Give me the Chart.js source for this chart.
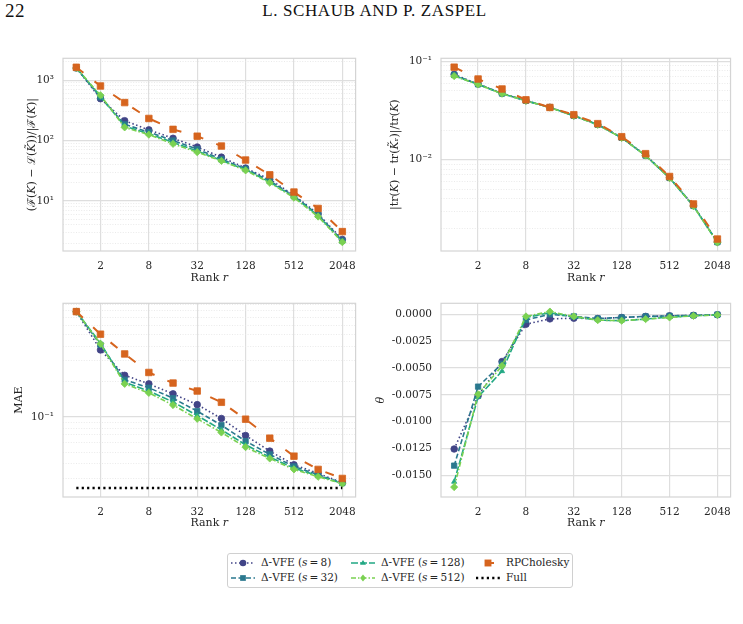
<!DOCTYPE html>
<html>
<head>
<meta charset="utf-8">
<script src="https://cdn.jsdelivr.net/npm/chart.js@4.4.1/dist/chart.umd.min.js"></script>
<style>
  body { margin: 0; background: #fff; width: 743px; height: 624px; position: relative; overflow: hidden; }
  canvas.plot { position: absolute; }
  #pageno { position: absolute; left: 5px; top: 0px; font: 19px 'Liberation Serif', serif; color: #111; letter-spacing: 0.5px; }
  #runhead { position: absolute; left: 0; width: 749px; top: 1px; text-align: center; font: 17px 'Liberation Serif', serif; color: #111; letter-spacing: 0.6px; }
  #legend { position: absolute; left: 227px; top: 553px; width: 344px; height: 33px; border: 1px solid #d0d0d0; border-radius: 3px; font: 10.5px 'DejaVu Serif', serif; color: #262626; }
  #legend .item { position: absolute; white-space: nowrap; }
  #legend canvas { position: absolute; left: 0; top: 0; }
  #legend span { position: absolute; left: 31px; top: -1px; }
</style>
</head>
<body>
<div id="pageno">22</div>
<div id="runhead">L. SCHAUB AND P. ZASPEL</div>
<canvas class="plot" id="gapChart" width="365" height="252" style="left:0px;top:43px"></canvas>
<canvas class="plot" id="traceChart" width="365" height="252" style="left:375px;top:43px"></canvas>
<canvas class="plot" id="maeChart" width="365" height="252" style="left:0px;top:288px"></canvas>
<canvas class="plot" id="thetaChart" width="365" height="252" style="left:375px;top:288px"></canvas>
<div id="legend"></div>
<script>
// ranks on the x axis and the tick labels shown
const ranks = [1, 2, 4, 8, 16, 32, 64, 128, 256, 512, 1024, 2048];
const rankTicks = [2, 8, 32, 128, 512, 2048];

// top left: (F(K) - L(K~)) / |F(K)|
const gap_s8   = [1590, 493, 213, 150, 109, 78, 53, 35, 22.7, 12.4, 6.1, 2.3];
const gap_s32  = [1590, 520, 185, 138, 100, 72, 49, 34, 21.5, 12.0, 5.9, 2.2];
const gap_s128 = [1590, 540, 172, 130, 93, 67, 47, 33, 20.5, 11.6, 5.7, 2.12];
const gap_s512 = [1590, 562, 165, 125, 88, 64, 46, 32, 20.0, 11.3, 5.5, 2.07];
const gap_rpc  = [1633, 800, 425, 232, 153, 118, 81, 47.5, 27, 14.0, 7.5, 3.1];

// top right: |tr(K) - tr(K~_r)| / tr(K)
const tr_s8   = [0.0735, 0.0585, 0.0472, 0.0398, 0.0340, 0.0280, 0.0228, 0.0168, 0.0111, 0.00656, 0.00341, 0.00146];
const tr_s32  = [0.0725, 0.0583, 0.0470, 0.0397, 0.0339, 0.0279, 0.0227, 0.0167, 0.0110, 0.00653, 0.00339, 0.00145];
const tr_s128 = [0.0712, 0.0581, 0.0468, 0.0396, 0.0339, 0.0279, 0.0227, 0.0167, 0.0110, 0.00652, 0.00338, 0.00144];
const tr_s512 = [0.0706, 0.0580, 0.0467, 0.0396, 0.0338, 0.0278, 0.0226, 0.0166, 0.0110, 0.00650, 0.00337, 0.00144];
const tr_rpc  = [0.0870, 0.0659, 0.0522, 0.0405, 0.0339, 0.0286, 0.0232, 0.0171, 0.0115, 0.00674, 0.00355, 0.00156];

// bottom left: MAE
const mae_s8   = [0.79, 0.372, 0.226, 0.191, 0.157, 0.127, 0.0968, 0.0693, 0.0510, 0.0390, 0.0329, 0.0274];
const mae_s32  = [0.79, 0.411, 0.207, 0.177, 0.144, 0.1117, 0.0849, 0.0620, 0.0478, 0.0377, 0.0321, 0.0272];
const mae_s128 = [0.79, 0.425, 0.197, 0.166, 0.134, 0.1026, 0.0775, 0.0577, 0.0453, 0.0365, 0.0314, 0.0270];
const mae_s512 = [0.79, 0.420, 0.191, 0.160, 0.126, 0.0962, 0.0735, 0.0551, 0.0441, 0.0356, 0.0308, 0.0269];
const mae_rpc  = [0.79, 0.507, 0.344, 0.239, 0.194, 0.166, 0.133, 0.0955, 0.0658, 0.0462, 0.0356, 0.0298];
const fullRanks = [1, 2048];
const mae_full  = [0.0247, 0.0247];

// bottom right: theta
const theta_s8   = [-0.01255, -0.0076, -0.0044, -0.00093, -0.00043, -0.00037, -0.00040, -0.00030, -0.00020, -0.00015, -0.00010, -0.00005];
const theta_s32  = [-0.0141, -0.00674, -0.0046, -0.00053, 0.0, -0.00020, -0.00040, -0.00030, -0.00020, -0.00015, -0.00010, -0.00003];
const theta_s128 = [-0.0156, -0.0077, -0.0053, -0.00030, 0.00015, -0.00025, -0.00055, -0.00060, -0.00045, -0.00025, -0.00015, -0.00006];
const theta_s512 = [-0.0161, -0.00745, -0.0048, -0.00020, 0.00025, -0.00020, -0.00055, -0.00060, -0.00045, -0.00030, -0.00015, -0.00006];

const legendLabels = ['Δ-VFE (<i>s</i>\u2009=\u20098)', 'Δ-VFE (<i>s</i>\u2009=\u200932)', 'Δ-VFE (<i>s</i>\u2009=\u2009128)',
                      'Δ-VFE (<i>s</i>\u2009=\u2009512)', 'RPCholesky', 'Full'];

const styles = {
  s8:   { color: '#414487', dash: [1.5, 2.5], point: 'circle', r: 3.3, width: 1.6 },
  s32:  { color: '#2a788e', dash: [5, 2.5], point: 'rect', r: 3.8, width: 1.6 },
  s128: { color: '#22a884', dash: [7, 2], point: 'triangle', r: 3, width: 1.6 },
  s512: { color: '#7ad151', dash: [5, 2, 1.5, 2], point: 'rectRot', r: 3.6, width: 1.6 },
  rpc:  { color: '#d6641e', dash: [9, 14], point: 'rect', r: 4.6, width: 2 },
  full: { color: '#000000', dash: [2.2, 3.2], point: false, r: 0, width: 2.5 }
};

Chart.defaults.font.family = "'DejaVu Serif', serif";
Chart.defaults.font.size = 10.5;
Chart.defaults.color = '#262626';

function series(label, xs, ys, st, order) {
  return {
    label: label,
    data: xs.map((x, i) => ({ x: x, y: ys[i] })),
    borderColor: st.color,
    backgroundColor: st.color,
    pointBorderColor: st.color,
    borderDash: st.dash,
    borderWidth: st.width,
    pointStyle: st.point,
    pointRadius: st.r,
    pointBorderWidth: 0.8,
    tension: 0,
    fill: false,
    order: order
  };
}

const sup = { '-': '⁻', '0': '⁰', '1': '¹', '2': '²', '3': '³', '4': '⁴', '5': '⁵', '6': '⁶', '7': '⁷', '8': '⁸', '9': '⁹' };

function logGrid(min, max) {
  const out = [];
  for (let e = Math.floor(Math.log10(min)); e <= Math.ceil(Math.log10(max)); e++) {
    for (let m = 1; m < 10; m++) {
      const v = m * Math.pow(10, e);
      if (v >= min && v <= max) out.push({ value: v, dec: m === 1, e: e });
    }
  }
  return out;
}

const framePlugin = {
  id: 'frame',
  beforeDatasetsDraw(chart) {
    const a = chart.chartArea, ctx = chart.ctx;
    ctx.save();
    ctx.strokeStyle = '#d4d4d4';
    ctx.lineWidth = 1.2;
    ctx.strokeRect(a.left, a.top, a.right - a.left, a.bottom - a.top);
    ctx.restore();
  }
};

function makePlot(id, p) {
  let yTicks;
  const yScale = {
    type: p.yType,
    min: p.yMin,
    max: p.yMax,
    afterBuildTicks: s => { s.ticks = yTicks; },
    afterFit: s => { s.width = p.yWidth; },
    ticks: {
      autoSkip: false,
      padding: 9,
      callback: function (v, i) {
        const t = yTicks[i];
        if (p.yType === 'logarithmic') return t.dec ? '10' + String(t.e).split('').map(c => sup[c]).join('') : '';
        return v.toFixed(4);
      }
    },
    grid: {
      drawTicks: false,
      color: ctx => (ctx.tick && ctx.tick.dec === false) ? '#e4e4e4' : '#dedede',
      lineWidth: ctx => (ctx.tick && ctx.tick.dec === false) ? 0.8 : 1.2
    },
    border: {
      display: false,
      dash: ctx => (ctx.tick && ctx.tick.dec === false) ? [1, 1.6] : []
    },
    title: { display: true, text: p.yTitle, font: { size: 11, style: p.yStyle || 'normal' }, padding: { top: p.titlePad, bottom: 0 } }
  };
  if (p.yType === 'logarithmic') {
    yTicks = logGrid(p.yMin, p.yMax);
  } else {
    yTicks = p.linTicks.map(v => ({ value: v, dec: true }));
  }
  return new Chart(document.getElementById(id), {
    type: 'line',
    data: { datasets: p.datasets },
    plugins: [framePlugin],
    options: {
      responsive: false,
      animation: false,
      layout: { padding: { left: 0, top: p.padTop, right: p.padRight, bottom: 0 } },
      plugins: { legend: { display: false }, tooltip: { enabled: false } },
      scales: {
        x: {
          type: 'logarithmic',
          min: Math.pow(2, -0.55),
          max: Math.pow(2, 11.55),
          afterBuildTicks: s => { s.ticks = rankTicks.map(v => ({ value: v })); },
          afterFit: s => { s.height = p.xHeight; },
          ticks: { autoSkip: false, maxRotation: 0, padding: 9, callback: v => String(v) },
          grid: { drawTicks: false, color: '#dedede', lineWidth: 1.2 },
          border: { display: false },
          title: { display: true, text: 'Rank 𝑟', font: { size: 11 }, padding: { top: 0, bottom: 10 } }
        },
        y: yScale
      }
    }
  });
}

function vfeSets(xs, a, b, c, d) {
  return [
    series('s8', xs, a, styles.s8, 5),
    series('s32', xs, b, styles.s32, 4),
    series('s128', xs, c, styles.s128, 3),
    series('s512', xs, d, styles.s512, 2)
  ];
}

makePlot('gapChart', {
  datasets: vfeSets(ranks, gap_s8, gap_s32, gap_s128, gap_s512).concat([series('RPCholesky', ranks, gap_rpc, styles.rpc, 1)]),
  yType: 'logarithmic', yMin: 1.48, yMax: 2300,
  yTitle: '(ℱ(𝐾) − ℒ(𝐾̃))/|ℱ(𝐾)|', yWidth: 63, titlePad: 26,
  padTop: 7, padRight: 7, xHeight: 44
});

makePlot('traceChart', {
  datasets: vfeSets(ranks, tr_s8, tr_s32, tr_s128, tr_s512).concat([series('RPCholesky', ranks, tr_rpc, styles.rpc, 1)]),
  yType: 'logarithmic', yMin: 0.00118, yMax: 0.107,
  yTitle: '|tr(𝐾) − tr(𝐾̃ᵣ)|/tr(𝐾)', yWidth: 66, titlePad: 14,
  padTop: 7, padRight: 3, xHeight: 44
});

makePlot('maeChart', {
  datasets: vfeSets(ranks, mae_s8, mae_s32, mae_s128, mae_s512).concat([
    series('RPCholesky', ranks, mae_rpc, styles.rpc, 1),
    series('Full', fullRanks, mae_full, styles.full, 0)
  ]),
  yType: 'logarithmic', yMin: 0.0207, yMax: 0.93,
  yTitle: 'MAE', yWidth: 63, titlePad: 13,
  padTop: 8, padRight: 7, xHeight: 43
});

makePlot('thetaChart', {
  datasets: vfeSets(ranks, theta_s8, theta_s32, theta_s128, theta_s512),
  yType: 'linear', yMin: -0.01702, yMax: 0.00102,
  linTicks: [-0.015, -0.0125, -0.01, -0.0075, -0.005, -0.0025, 0],
  yTitle: 'θ', yStyle: 'italic', yWidth: 66, titlePad: 0,
  padTop: 8, padRight: 3, xHeight: 43
});

// legend, filled column by column like the original
const legendKeys = ['s8', 's128', 'rpc', 's32', 's512', 'full'];
const legendText = [legendLabels[0], legendLabels[2], legendLabels[4], legendLabels[1], legendLabels[3], legendLabels[5]];
const colX = [2, 122, 247];
const rowY = [3, 18];
const legend = document.getElementById('legend');
legendKeys.forEach((k, i) => {
  const st = styles[k];
  const item = document.createElement('div');
  item.className = 'item';
  item.style.left = colX[i % 3] + 'px';
  item.style.top = rowY[Math.floor(i / 3)] + 'px';
  const c = document.createElement('canvas');
  c.width = 26; c.height = 12;
  const g = c.getContext('2d');
  g.strokeStyle = st.color; g.fillStyle = st.color;
  g.lineWidth = st.width;
  g.setLineDash(st.dash);
  if (k === 'rpc') g.lineDashOffset = -9;
  g.beginPath(); g.moveTo(1, 6); g.lineTo(25, 6); g.stroke();
  g.setLineDash([]);
  const r = st.r, cx = 13, cy = 6;
  g.beginPath();
  if (st.point === 'circle') g.arc(cx, cy, r, 0, Math.PI * 2);
  else if (st.point === 'rect') g.rect(cx - r * 0.75, cy - r * 0.75, r * 1.5, r * 1.5);
  else if (st.point === 'triangle') { g.moveTo(cx, cy - r); g.lineTo(cx + r, cy + r * 0.6); g.lineTo(cx - r, cy + r * 0.6); g.closePath(); }
  else if (st.point === 'rectRot') { g.moveTo(cx, cy - r); g.lineTo(cx + r * 0.8, cy); g.lineTo(cx, cy + r); g.lineTo(cx - r * 0.8, cy); g.closePath(); }
  if (st.point) g.fill();
  const s = document.createElement('span');
  s.innerHTML = legendText[i];
  item.appendChild(c);
  item.appendChild(s);
  legend.appendChild(item);
});
</script>
</body>
</html>
